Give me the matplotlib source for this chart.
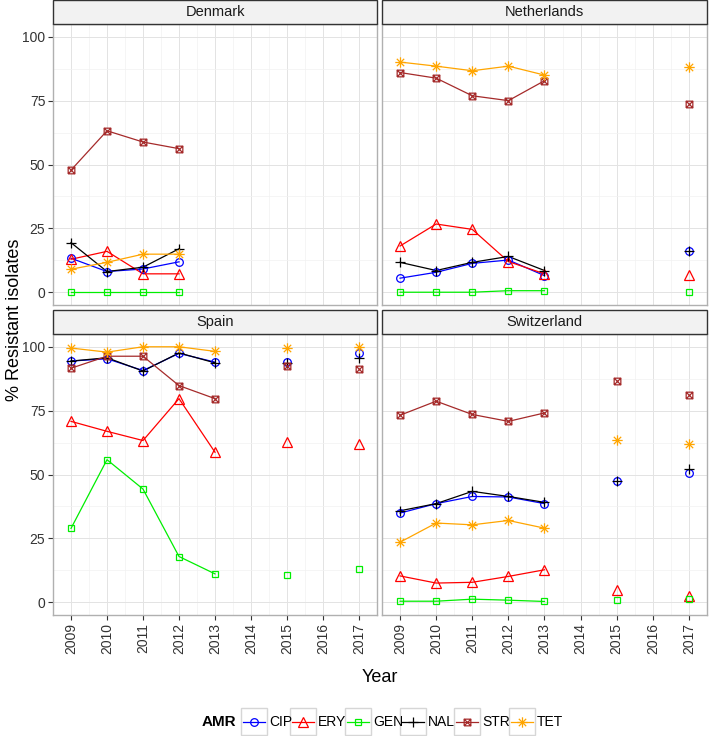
import matplotlib
matplotlib.use('Agg')
import matplotlib.pyplot as plt
from matplotlib.path import Path
from matplotlib.patches import Rectangle
from matplotlib.lines import Line2D
import numpy as np

plt.rcParams['font.family'] = ['Liberation Sans', 'DejaVu Sans']

# ---------------- data ----------------
year_ticks = [2009, 2010, 2011, 2012, 2013, 2014, 2015, 2016, 2017]
amr_classes = ['CIP', 'ERY', 'GEN', 'NAL', 'STR', 'TET']
countries = ['Denmark', 'Netherlands', 'Spain', 'Switzerland']

denmark_years = [2009, 2010, 2011, 2012]
denmark = {
    'CIP': [13.3, 8.1, 9.1, 11.9],
    'ERY': [12.9, 16.0, 7.2, 7.2],
    'GEN': [0.0, 0.0, 0.0, 0.0],
    'NAL': [19.4, 8.1, 9.8, 17.0],
    'STR': [47.8, 63.2, 58.8, 56.2],
    'TET': [9.0, 11.7, 14.9, 14.9],
}

netherlands_years = [2009, 2010, 2011, 2012, 2013, 2017]
netherlands = {
    'CIP': [5.5, 7.8, 11.3, 12.6, 6.5, 16.2],
    'ERY': [18.1, 26.7, 24.6, 12.0, 7.2, 6.6],
    'GEN': [0.0, 0.0, 0.0, 0.6, 0.6, 0.0],
    'NAL': [11.7, 8.5, 11.7, 14.0, 8.5, 16.2],
    'STR': [86.0, 83.8, 76.9, 75.0, 82.8, 73.5],
    'TET': [90.1, 88.5, 86.7, 88.5, 85.0, 88.1],
}

spain_years = [2009, 2010, 2011, 2012, 2013, 2015, 2017]
spain = {
    'CIP': [94.4, 95.3, 90.7, 97.4, 94.0, 94.1, 97.6],
    'ERY': [70.8, 66.9, 63.3, 79.7, 58.7, 62.7, 62.1],
    'GEN': [28.9, 55.8, 44.3, 17.9, 11.1, 10.7, 12.9],
    'NAL': [94.4, 95.7, 90.5, 97.6, 93.7, 93.7, 95.7],
    'STR': [91.6, 96.3, 96.3, 84.8, 79.7, 92.4, 91.4],
    'TET': [99.5, 97.9, 100.0, 100.0, 98.2, 99.5, 100.0],
}

switzerland_years = [2009, 2010, 2011, 2012, 2013, 2015, 2017]
switzerland = {
    'CIP': [34.9, 38.6, 41.4, 41.2, 38.6, 47.3, 50.6],
    'ERY': [10.3, 7.5, 7.8, 10.1, 12.7, 4.8, 2.5],
    'GEN': [0.4, 0.4, 1.2, 0.8, 0.3, 0.8, 1.3],
    'NAL': [35.8, 38.6, 43.4, 41.4, 39.1, 47.3, 52.2],
    'STR': [73.2, 78.7, 73.5, 70.8, 74.1, 86.7, 81.3],
    'TET': [23.5, 31.0, 30.3, 32.0, 29.0, 63.7, 62.1],
}

country_years = [denmark_years, netherlands_years, spain_years, switzerland_years]
country_data = [denmark, netherlands, spain, switzerland]

# ---------------- styles ----------------
colors = {'CIP': '#0000FF', 'ERY': '#FF0000', 'GEN': '#00EE00',
          'NAL': '#000000', 'STR': '#A52A2A', 'TET': '#FFA500'}

M, L = Path.MOVETO, Path.LINETO
boxcross = Path([(-1, -1), (1, -1), (1, 1), (-1, 1), (-1, -1),
                 (-1, -1), (1, 1), (-1, 1), (1, -1)],
                [M, L, L, L, L, M, L, M, L])
asterisk = Path([(0, -1), (0, 1), (-1, 0), (1, 0),
                 (-0.7071, -0.7071), (0.7071, 0.7071),
                 (-0.7071, 0.7071), (0.7071, -0.7071)],
                [M, L, M, L, M, L, M, L])
markers = {'CIP': ('o', 5.5), 'ERY': ('^', 6.8), 'GEN': ('s', 5.0),
           'NAL': ('+', 7.5), 'STR': (boxcross, 4.8), 'TET': (asterisk, 7.5)}

W, H = 709, 736
fig = plt.figure(figsize=(W / 100, H / 100), dpi=100)

# panel boxes in pixels: (left, right, top, bottom)
panels = [(53, 377, 24, 305), (382, 707, 24, 305),
          (53, 377, 334, 615), (382, 707, 334, 615)]

for i, (cname, yrs, data) in enumerate(zip(countries, country_years, country_data)):
    l, r, t, b = panels[i]
    ax = fig.add_axes([l / W, 1 - b / H, (r - l) / W, (b - t) / H])
    ax.set_xlim(2008.6, 2017.4)
    ax.set_ylim(-5, 105)
    ax.set_xticks(year_ticks)
    ax.set_xticks(np.arange(2008.5, 2017.6, 1.0), minor=True)
    ax.set_yticks([0, 25, 50, 75, 100])
    ax.set_yticks([12.5, 37.5, 62.5, 87.5], minor=True)
    ax.grid(which='major', color='#E3E3E3', lw=0.7)
    ax.grid(which='minor', color='#F2F2F2', lw=0.5)
    ax.set_axisbelow(True)
    for s in ax.spines.values():
        s.set_color('#B0B0B0')
        s.set_linewidth(1.0)
    ax.tick_params(which='minor', length=0)
    ax.tick_params(which='major', length=3.5, width=0.8, color='#333333',
                   labelsize=10, labelcolor='#333333', pad=2)
    if i in (0, 1):
        ax.tick_params(axis='x', length=0, labelbottom=False)
    else:
        ax.set_xticklabels([str(y) for y in year_ticks], rotation=90)
    if i in (1, 3):
        ax.tick_params(axis='y', length=0, labelleft=False)

    yrs_arr = np.array(yrs)
    # lines: only connect consecutive years
    breaks = np.where(np.diff(yrs_arr) > 1)[0] + 1
    for a in amr_classes:
        vals = np.array(data[a])
        for seg_x, seg_y in zip(np.split(yrs_arr, breaks), np.split(vals, breaks)):
            if len(seg_x) > 1:
                ax.plot(seg_x, seg_y, color=colors[a], lw=0.9, zorder=2)
    for a in amr_classes:
        mk, ms = markers[a]
        ax.plot(yrs_arr, data[a], ls='none', marker=mk, ms=ms,
                mfc='none', mec=colors[a], mew=0.9, zorder=3)

    # strip
    sh = 24 / (b - t)
    ax.add_patch(Rectangle((0, 1), 1, sh, transform=ax.transAxes, clip_on=False,
                           facecolor='#F2F2F2', edgecolor='#333333', lw=1.0, zorder=5))
    ax.text(0.5, 1 + sh / 2, cname, transform=ax.transAxes, ha='center',
            va='center', fontsize=10.5, color='#1A1A1A', zorder=6)

# axis titles
fig.text(15 / W, 1 - 320 / H, '% Resistant isolates', rotation=90,
         ha='center', va='center', fontsize=13, color='black')
fig.text(380 / W, 1 - 678 / H, 'Year', ha='center', va='center',
         fontsize=13, color='black')

# legend (manual, pixel coordinates)
lg = fig.add_axes([0, 0, 1, 1], zorder=10)
lg.set_xlim(0, W)
lg.set_ylim(H, 0)
lg.axis('off')
lg.patch.set_alpha(0)
lg.text(236, 722, 'AMR', ha='right', va='center', fontsize=11,
        fontweight='bold', color='black')
box_left = [241, 290, 345, 400, 454, 509]
for a, x0 in zip(amr_classes, box_left):
    lg.add_patch(Rectangle((x0, 708), 26, 27, facecolor='white',
                           edgecolor='#D6D6D6', lw=1.0))
    cy = 721.5
    lg.add_line(Line2D([x0 + 2, x0 + 24], [cy, cy], color=colors[a], lw=0.9))
    mk, ms = markers[a]
    lg.add_line(Line2D([x0 + 13], [cy], ls='none', marker=mk, ms=ms,
                       mfc='none', mec=colors[a], mew=0.9))
    lg.text(x0 + 28, cy, a, ha='left', va='center', fontsize=10, color='black')

fig.savefig('out.png', dpi=100)
